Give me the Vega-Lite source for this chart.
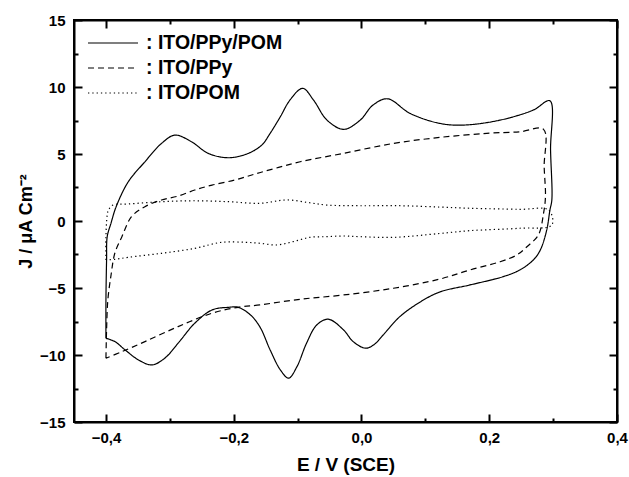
{
 "$schema": "https://vega.github.io/schema/vega-lite/v6.json",
 "width": 543, "height": 402,
 "autosize": {"type": "none"},
 "padding": {"left": 74, "top": 20, "right": 12, "bottom": 55},
 "background": "white",
 "config": {"view": {"stroke": "black", "strokeWidth": 2}, "font": "Liberation Sans"},
 "data": {"values": [
   {"s":": ITO/PPy/POM","i":0,"x":-0.4,"y":-8.75},
   {"s":": ITO/PPy/POM","i":1,"x":-0.4,"y":-5.89},
   {"s":": ITO/PPy/POM","i":2,"x":-0.399,"y":-2.91},
   {"s":": ITO/PPy/POM","i":3,"x":-0.398,"y":-1.17},
   {"s":": ITO/PPy/POM","i":4,"x":-0.392,"y":-0.15},
   {"s":": ITO/PPy/POM","i":5,"x":-0.384,"y":1.07},
   {"s":": ITO/PPy/POM","i":6,"x":-0.365,"y":2.93},
   {"s":": ITO/PPy/POM","i":7,"x":-0.339,"y":4.42},
   {"s":": ITO/PPy/POM","i":8,"x":-0.313,"y":5.79},
   {"s":": ITO/PPy/POM","i":9,"x":-0.292,"y":6.41},
   {"s":": ITO/PPy/POM","i":10,"x":-0.266,"y":5.91},
   {"s":": ITO/PPy/POM","i":11,"x":-0.24,"y":5.05},
   {"s":": ITO/PPy/POM","i":12,"x":-0.208,"y":4.72},
   {"s":": ITO/PPy/POM","i":13,"x":-0.177,"y":5.05},
   {"s":": ITO/PPy/POM","i":14,"x":-0.156,"y":5.67},
   {"s":": ITO/PPy/POM","i":15,"x":-0.143,"y":6.54},
   {"s":": ITO/PPy/POM","i":16,"x":-0.127,"y":7.78},
   {"s":": ITO/PPy/POM","i":17,"x":-0.112,"y":9.02},
   {"s":": ITO/PPy/POM","i":18,"x":-0.092,"y":9.9},
   {"s":": ITO/PPy/POM","i":19,"x":-0.075,"y":9.02},
   {"s":": ITO/PPy/POM","i":20,"x":-0.054,"y":7.53},
   {"s":": ITO/PPy/POM","i":21,"x":-0.028,"y":6.84},
   {"s":": ITO/PPy/POM","i":22,"x":-0.002,"y":7.53},
   {"s":": ITO/PPy/POM","i":23,"x":0.018,"y":8.65},
   {"s":": ITO/PPy/POM","i":24,"x":0.041,"y":9.12},
   {"s":": ITO/PPy/POM","i":25,"x":0.076,"y":8.03},
   {"s":": ITO/PPy/POM","i":26,"x":0.123,"y":7.28},
   {"s":": ITO/PPy/POM","i":27,"x":0.16,"y":7.16},
   {"s":": ITO/PPy/POM","i":28,"x":0.217,"y":7.53},
   {"s":": ITO/PPy/POM","i":29,"x":0.269,"y":8.28},
   {"s":": ITO/PPy/POM","i":30,"x":0.295,"y":8.97},
   {"s":": ITO/PPy/POM","i":31,"x":0.296,"y":5.29},
   {"s":": ITO/PPy/POM","i":32,"x":0.298,"y":1.57},
   {"s":": ITO/PPy/POM","i":33,"x":0.295,"y":0.82},
   {"s":": ITO/PPy/POM","i":34,"x":0.29,"y":-0.67},
   {"s":": ITO/PPy/POM","i":35,"x":0.28,"y":-2.16},
   {"s":": ITO/PPy/POM","i":36,"x":0.269,"y":-2.91},
   {"s":": ITO/PPy/POM","i":37,"x":0.248,"y":-3.65},
   {"s":": ITO/PPy/POM","i":38,"x":0.222,"y":-4.15},
   {"s":": ITO/PPy/POM","i":39,"x":0.17,"y":-4.77},
   {"s":": ITO/PPy/POM","i":40,"x":0.123,"y":-5.29},
   {"s":": ITO/PPy/POM","i":41,"x":0.092,"y":-6.04},
   {"s":": ITO/PPy/POM","i":42,"x":0.06,"y":-7.14},
   {"s":": ITO/PPy/POM","i":43,"x":0.034,"y":-8.5},
   {"s":": ITO/PPy/POM","i":44,"x":0.019,"y":-9.25},
   {"s":": ITO/PPy/POM","i":45,"x":0.006,"y":-9.49},
   {"s":": ITO/PPy/POM","i":46,"x":-0.013,"y":-9.0},
   {"s":": ITO/PPy/POM","i":47,"x":-0.028,"y":-8.13},
   {"s":": ITO/PPy/POM","i":48,"x":-0.052,"y":-7.33},
   {"s":": ITO/PPy/POM","i":49,"x":-0.07,"y":-7.76},
   {"s":": ITO/PPy/POM","i":50,"x":-0.086,"y":-9.12},
   {"s":": ITO/PPy/POM","i":51,"x":-0.101,"y":-10.87},
   {"s":": ITO/PPy/POM","i":52,"x":-0.114,"y":-11.73},
   {"s":": ITO/PPy/POM","i":53,"x":-0.127,"y":-11.11},
   {"s":": ITO/PPy/POM","i":54,"x":-0.143,"y":-9.62},
   {"s":": ITO/PPy/POM","i":55,"x":-0.159,"y":-7.9},
   {"s":": ITO/PPy/POM","i":56,"x":-0.174,"y":-7.0},
   {"s":": ITO/PPy/POM","i":57,"x":-0.193,"y":-6.44},
   {"s":": ITO/PPy/POM","i":58,"x":-0.208,"y":-6.44},
   {"s":": ITO/PPy/POM","i":59,"x":-0.234,"y":-6.64},
   {"s":": ITO/PPy/POM","i":60,"x":-0.261,"y":-7.63},
   {"s":": ITO/PPy/POM","i":61,"x":-0.287,"y":-9.12},
   {"s":": ITO/PPy/POM","i":62,"x":-0.308,"y":-10.24},
   {"s":": ITO/PPy/POM","i":63,"x":-0.328,"y":-10.74},
   {"s":": ITO/PPy/POM","i":64,"x":-0.349,"y":-10.37},
   {"s":": ITO/PPy/POM","i":65,"x":-0.37,"y":-9.62},
   {"s":": ITO/PPy/POM","i":66,"x":-0.386,"y":-9.0},
   {"s":": ITO/PPy/POM","i":67,"x":-0.4,"y":-8.75},
   {"s":": ITO/PPy","i":0,"x":-0.4,"y":-10.24},
   {"s":": ITO/PPy","i":1,"x":-0.399,"y":-8.13},
   {"s":": ITO/PPy","i":2,"x":-0.397,"y":-5.89},
   {"s":": ITO/PPy","i":3,"x":-0.392,"y":-4.03},
   {"s":": ITO/PPy","i":4,"x":-0.386,"y":-2.39},
   {"s":": ITO/PPy","i":5,"x":-0.375,"y":-1.17},
   {"s":": ITO/PPy","i":6,"x":-0.36,"y":0.32},
   {"s":": ITO/PPy","i":7,"x":-0.339,"y":1.07},
   {"s":": ITO/PPy","i":8,"x":-0.313,"y":1.57},
   {"s":": ITO/PPy","i":9,"x":-0.287,"y":1.86},
   {"s":": ITO/PPy","i":10,"x":-0.261,"y":2.31},
   {"s":": ITO/PPy","i":11,"x":-0.234,"y":2.68},
   {"s":": ITO/PPy","i":12,"x":-0.198,"y":3.06},
   {"s":": ITO/PPy","i":13,"x":-0.167,"y":3.5},
   {"s":": ITO/PPy","i":14,"x":-0.135,"y":3.93},
   {"s":": ITO/PPy","i":15,"x":-0.096,"y":4.42},
   {"s":": ITO/PPy","i":16,"x":-0.028,"y":5.05},
   {"s":": ITO/PPy","i":17,"x":0.05,"y":5.79},
   {"s":": ITO/PPy","i":18,"x":0.123,"y":6.24},
   {"s":": ITO/PPy","i":19,"x":0.196,"y":6.54},
   {"s":": ITO/PPy","i":20,"x":0.248,"y":6.66},
   {"s":": ITO/PPy","i":21,"x":0.285,"y":6.84},
   {"s":": ITO/PPy","i":22,"x":0.286,"y":4.05},
   {"s":": ITO/PPy","i":23,"x":0.288,"y":1.81},
   {"s":": ITO/PPy","i":24,"x":0.285,"y":0.57},
   {"s":": ITO/PPy","i":25,"x":0.277,"y":-1.04},
   {"s":": ITO/PPy","i":26,"x":0.259,"y":-1.92},
   {"s":": ITO/PPy","i":27,"x":0.243,"y":-2.54},
   {"s":": ITO/PPy","i":28,"x":0.217,"y":-3.04},
   {"s":": ITO/PPy","i":29,"x":0.17,"y":-3.65},
   {"s":": ITO/PPy","i":30,"x":0.123,"y":-4.33},
   {"s":": ITO/PPy","i":31,"x":0.05,"y":-5.02},
   {"s":": ITO/PPy","i":32,"x":-0.028,"y":-5.52},
   {"s":": ITO/PPy","i":33,"x":-0.096,"y":-5.84},
   {"s":": ITO/PPy","i":34,"x":-0.159,"y":-6.26},
   {"s":": ITO/PPy","i":35,"x":-0.193,"y":-6.44},
   {"s":": ITO/PPy","i":36,"x":-0.234,"y":-6.88},
   {"s":": ITO/PPy","i":37,"x":-0.287,"y":-7.88},
   {"s":": ITO/PPy","i":38,"x":-0.339,"y":-9.0},
   {"s":": ITO/PPy","i":39,"x":-0.375,"y":-9.75},
   {"s":": ITO/PPy","i":40,"x":-0.4,"y":-10.24},
   {"s":": ITO/POM","i":0,"x":-0.4,"y":-2.91},
   {"s":": ITO/POM","i":1,"x":-0.4,"y":-1.17},
   {"s":": ITO/POM","i":2,"x":-0.398,"y":0.45},
   {"s":": ITO/POM","i":3,"x":-0.396,"y":0.82},
   {"s":": ITO/POM","i":4,"x":-0.389,"y":1.19},
   {"s":": ITO/POM","i":5,"x":-0.365,"y":1.27},
   {"s":": ITO/POM","i":6,"x":-0.313,"y":1.44},
   {"s":": ITO/POM","i":7,"x":-0.261,"y":1.51},
   {"s":": ITO/POM","i":8,"x":-0.208,"y":1.44},
   {"s":": ITO/POM","i":9,"x":-0.159,"y":1.32},
   {"s":": ITO/POM","i":10,"x":-0.117,"y":1.57},
   {"s":": ITO/POM","i":11,"x":-0.081,"y":1.36},
   {"s":": ITO/POM","i":12,"x":-0.054,"y":1.19},
   {"s":": ITO/POM","i":13,"x":-0.002,"y":1.14},
   {"s":": ITO/POM","i":14,"x":0.06,"y":1.14},
   {"s":": ITO/POM","i":15,"x":0.123,"y":1.04},
   {"s":": ITO/POM","i":16,"x":0.17,"y":0.95},
   {"s":": ITO/POM","i":17,"x":0.248,"y":0.87},
   {"s":": ITO/POM","i":18,"x":0.293,"y":0.82},
   {"s":": ITO/POM","i":19,"x":0.298,"y":-0.3},
   {"s":": ITO/POM","i":20,"x":0.248,"y":-0.54},
   {"s":": ITO/POM","i":21,"x":0.17,"y":-0.72},
   {"s":": ITO/POM","i":22,"x":0.123,"y":-0.93},
   {"s":": ITO/POM","i":23,"x":0.05,"y":-1.22},
   {"s":": ITO/POM","i":24,"x":-0.002,"y":-1.17},
   {"s":": ITO/POM","i":25,"x":-0.028,"y":-1.12},
   {"s":": ITO/POM","i":26,"x":-0.054,"y":-1.17},
   {"s":": ITO/POM","i":27,"x":-0.081,"y":-1.22},
   {"s":": ITO/POM","i":28,"x":-0.107,"y":-1.54},
   {"s":": ITO/POM","i":29,"x":-0.133,"y":-1.79},
   {"s":": ITO/POM","i":30,"x":-0.159,"y":-1.66},
   {"s":": ITO/POM","i":31,"x":-0.182,"y":-1.59},
   {"s":": ITO/POM","i":32,"x":-0.219,"y":-1.59},
   {"s":": ITO/POM","i":33,"x":-0.261,"y":-2.04},
   {"s":": ITO/POM","i":34,"x":-0.313,"y":-2.41},
   {"s":": ITO/POM","i":35,"x":-0.365,"y":-2.71},
   {"s":": ITO/POM","i":36,"x":-0.386,"y":-2.86},
   {"s":": ITO/POM","i":37,"x":-0.4,"y":-2.91}
 ]},
 "resolve": {"axis": {"x": "independent", "y": "independent"}},
 "layer": [
  {
   "mark": {"type": "line", "color": "black", "strokeWidth": 1.2, "interpolate": "catmull-rom"},
   "encoding": {
    "x": {"field": "x", "type": "quantitative",
     "scale": {"domain": [-0.45, 0.4], "nice": false, "zero": false},
     "axis": {"orient": "bottom", "values": [-0.4,-0.3,-0.2,-0.1,0,0.1,0.2,0.3,0.4],
      "labelExpr": "abs(round(datum.value*10)) % 2 == 0 ? replace(format(datum.value,'.1f'),'.',',') : ''",
      "tickSize": {"condition": {"test": "abs(round(datum.value*10)) % 2 == 0", "value": -8}, "value": -4},
      "tickWidth": 2, "tickColor": "black", "domainColor": "black", "domainWidth": 2,
      "labelFontSize": 15, "labelFontWeight": "bold", "labelColor": "black", "labelPadding": 16, "labelFlush": false,
      "grid": false, "title": "E / V (SCE)", "titleFontSize": 19, "titleFontWeight": "bold", "titleColor": "black", "titlePadding": 10}},
    "y": {"field": "y", "type": "quantitative",
     "scale": {"domain": [-15, 15], "nice": false, "zero": false},
     "axis": {"orient": "left", "values": [-15,-12.5,-10,-7.5,-5,-2.5,0,2.5,5,7.5,10,12.5,15],
      "labelExpr": "datum.value % 5 == 0 ? format(datum.value,'d') : ''",
      "tickSize": {"condition": {"test": "datum.value % 5 == 0", "value": -8}, "value": -4},
      "tickWidth": 2, "tickColor": "black", "domainColor": "black", "domainWidth": 2,
      "labelFontSize": 15, "labelFontWeight": "bold", "labelColor": "black", "labelPadding": 17, "labelFlush": false,
      "grid": false, "title": "J / μA Cm⁻²", "titleFontSize": 18, "titleFontWeight": "bold", "titleColor": "black", "titlePadding": 4}},
    "strokeDash": {"field": "s", "type": "nominal",
     "scale": {"domain": [": ITO/PPy/POM", ": ITO/PPy", ": ITO/POM"], "range": [[1,0],[6,4],[1.3,3]]},
     "legend": {"orient": "none", "legendX": 28, "legendY": 12, "title": null,
      "symbolType": "M-2.5,0H2.5", "symbolSize": 400, "symbolStrokeColor": "black", "symbolStrokeWidth": 1.2,
      "labelFontSize": 19.5, "labelFontWeight": "bold", "labelColor": "black", "labelOffset": 22, "rowPadding": 4, "padding": 0}},
    "order": {"field": "i", "type": "quantitative"}
   }
  },
  {
   "mark": {"type": "point", "opacity": 0},
   "encoding": {
    "x": {"field": "x", "type": "quantitative",
     "axis": {"orient": "top", "values": [-0.4,-0.3,-0.2,-0.1,0,0.1,0.2,0.3,0.4], "labels": false, "title": null, "grid": false,
      "tickSize": {"condition": {"test": "abs(round(datum.value*10)) % 2 == 0", "value": -8}, "value": -4},
      "tickWidth": 2, "tickColor": "black", "domainColor": "black", "domainWidth": 2}},
    "y": {"field": "y", "type": "quantitative",
     "axis": {"orient": "right", "values": [-15,-12.5,-10,-7.5,-5,-2.5,0,2.5,5,7.5,10,12.5,15], "labels": false, "title": null, "grid": false,
      "tickSize": {"condition": {"test": "datum.value % 5 == 0", "value": -8}, "value": -4},
      "tickWidth": 2, "tickColor": "black", "domainColor": "black", "domainWidth": 2}}
   }
  }
 ]
}
